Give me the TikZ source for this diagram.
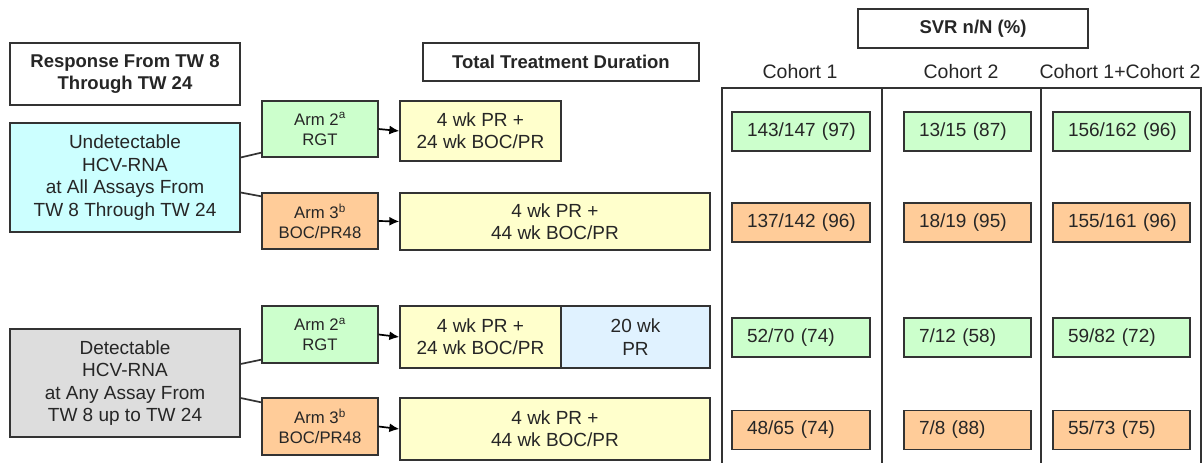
\documentclass[tikz,border=0pt]{standalone}
\usepackage{fontspec}
\setmainfont{Liberation Sans}
\usetikzlibrary{arrows.meta,calc}
\definecolor{txt}{HTML}{262626}
\definecolor{bord}{HTML}{333333}
\definecolor{cyanf}{HTML}{CCFFFF}
\definecolor{greenf}{HTML}{CCFFCC}
\definecolor{orangef}{HTML}{FFCC99}
\definecolor{yellowf}{HTML}{FFFFCC}
\definecolor{bluef}{HTML}{E0F2FF}
\definecolor{grayf}{HTML}{DDDDDD}
\begin{document}
\begin{tikzpicture}[x=1pt,y=-1pt,
  box/.style={draw=bord, line width=1.3pt, inner sep=0pt, align=center, text=txt,
              font=\fontsize{19}{22.4}\selectfont},
  head/.style={box, fill=white, font=\bfseries\fontsize{18.5}{22}\selectfont},
  armbox/.style={box, font=\fontsize{16.7}{20}\selectfont, minimum width=116pt, minimum height=57pt},
  cell/.style={draw=bord, line width=1.3pt, inner xsep=15pt, inner ysep=0pt, text=txt,
               font=\fontsize{19}{22}\selectfont, minimum height=39pt, align=left},
  c1/.style={cell, fill=#1, text width=108pt},
  c2/.style={cell, fill=#1, text width=97pt},
  c3/.style={cell, fill=#1, text width=107pt},
  link/.style={draw=bord, line width=1.7pt},
  arr/.style={draw=black, line width=1.7pt, -{Latex[length=10pt,width=9pt]}},
  tbl/.style={draw=bord, line width=1.1pt},
  coh/.style={text=txt, inner sep=0pt, font=\fontsize{19.5}{22}\selectfont}
]
\useasboundingbox (0,0) rectangle (1203,463);

% headers
\node[head, minimum width=230pt, minimum height=62pt] (resp) at (125,74) {Response From TW 8\\Through TW 24};
\node[head, minimum width=276pt, minimum height=38pt] (ttd) at (561,62) {Total Treatment Duration};
\node[head, minimum width=230pt, minimum height=39pt] (svr) at (973,28.5) {SVR n/N (\%)};

% left response boxes
\node[box, fill=cyanf, minimum width=230pt, minimum height=109pt] (und) at (125,177.5)
  {Undetectable\\HCV-RNA\\at All Assays From\\TW 8 Through TW 24};
\node[box, fill=grayf, minimum width=230pt, minimum height=108pt] (det) at (125,383)
  {Detectable\\HCV-RNA\\at Any Assay From\\TW 8 up to TW 24};

% arms
\node[armbox, fill=greenf, minimum height=56pt] (armA) at (320,129) {Arm 2\textsuperscript{a}\\RGT};
\node[armbox, fill=orangef, minimum height=56pt] (armB) at (320,221) {Arm 3\textsuperscript{b}\\BOC/PR48};
\node[armbox, fill=greenf] (armC) at (320,334.5) {Arm 2\textsuperscript{a}\\RGT};
\node[armbox, fill=orangef] (armD) at (320,426.5) {Arm 3\textsuperscript{b}\\BOC/PR48};

% durations
\node[box, fill=yellowf, minimum width=161pt, minimum height=60pt] (durA) at (480.5,131) {4 wk PR +\\24 wk BOC/PR};
\node[box, fill=yellowf, minimum width=310pt, minimum height=57pt] (durB) at (555,221.5) {4 wk PR +\\44 wk BOC/PR};
\node[box, fill=yellowf, minimum width=161pt, minimum height=62pt] (durC) at (480.5,337) {4 wk PR +\\24 wk BOC/PR};
\node[box, fill=bluef, minimum width=149pt, minimum height=62pt] (durC2) at (635.5,337) {20 wk\\PR};
\node[box, fill=yellowf, minimum width=310pt, minimum height=62pt] (durD) at (555,429) {4 wk PR +\\44 wk BOC/PR};

% connectors
\draw[link] ($(und.east)+(0,-20)$) -- ($(armA.south west)+(0,-5)$);
\draw[link] ($(und.east)+(0,15)$) -- ($(armB.north west)+(0,4)$);
\draw[link] ($(det.east)+(0,-19)$) -- ($(armC.south west)+(0,-4)$);
\draw[link] ($(det.east)+(0,15)$) -- ($(armD.north west)+(0,5)$);
\draw[arr] (armA.east) -- (durA.west);
\draw[arr] (armB.east) -- (durB.west);
\draw[arr] (armC.east) -- (durC.west);
\draw[arr] (armD.east) -- (durD.west);

% table
\draw[tbl] (722,470) -- (722,88) -- (1201,88) -- (1201,470);
\draw[tbl] (882,88) -- (882,470);
\draw[tbl] (1041,88) -- (1041,470);
\node[coh] (h1) at (800,72) {Cohort 1};
\node[coh] (h2) at (961,72) {Cohort 2};
\node[coh] (h3) at (1120,72) {Cohort 1+Cohort 2};

% cells
\node[c1=greenf] (r1a) at (801,131.5) {\mbox{143/147 (97)}};
\node[c2=greenf] (r1b) at (967.5,131.5) {\mbox{13/15 (87)}};
\node[c3=greenf] (r1c) at (1121.5,131.5) {\mbox{156/162 (96)}};
\node[c1=orangef] (r2a) at (801,222.5) {\mbox{137/142 (96)}};
\node[c2=orangef] (r2b) at (967.5,222.5) {\mbox{18/19 (95)}};
\node[c3=orangef] (r2c) at (1121.5,222.5) {\mbox{155/161 (96)}};
\node[c1=greenf] (r3a) at (801,337.5) {\mbox{52/70 (74)}};
\node[c2=greenf] (r3b) at (967.5,337.5) {\mbox{7/12 (58)}};
\node[c3=greenf] (r3c) at (1121.5,337.5) {\mbox{59/82 (72)}};
\node[c1=orangef] (r4a) at (801,430) {\mbox{48/65 (74)}};
\node[c2=orangef] (r4b) at (967.5,430) {\mbox{7/8 (88)}};
\node[c3=orangef] (r4c) at (1121.5,430) {\mbox{55/73 (75)}};
\end{tikzpicture}
\end{document}
